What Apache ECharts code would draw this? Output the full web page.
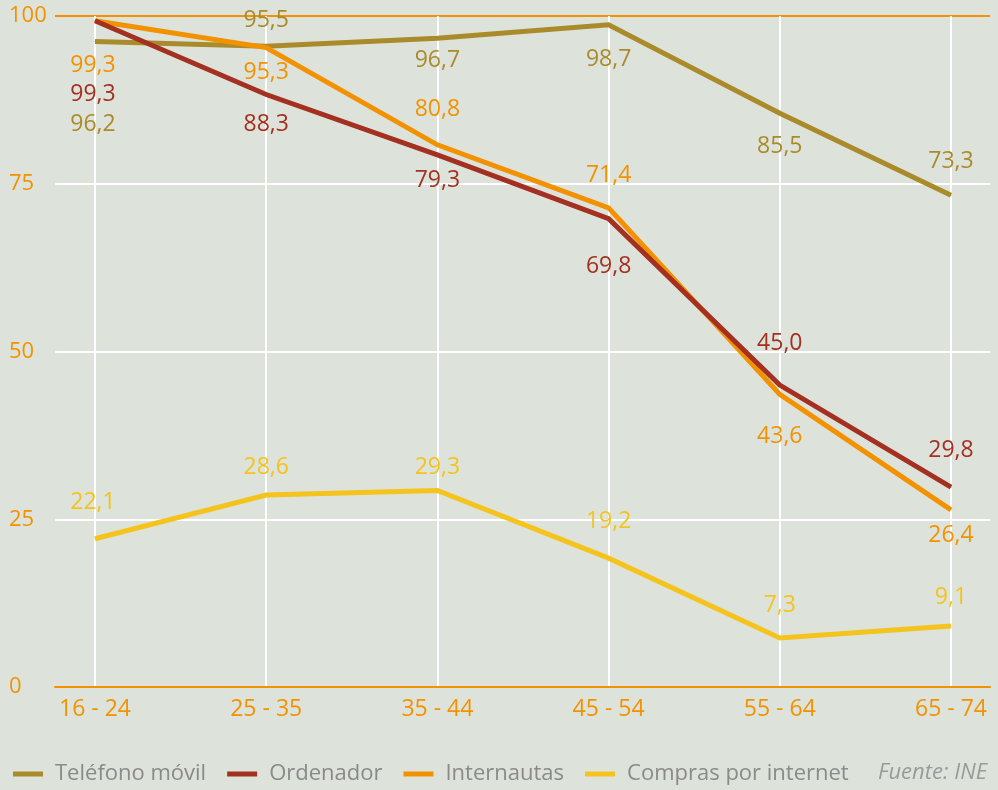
<!DOCTYPE html>
<html>
<head>
<meta charset="utf-8">
<title>Uso de TIC por edad</title>
<script src="https://cdn.jsdelivr.net/npm/echarts@6/dist/echarts.min.js"></script>
<style>
  html, body { margin: 0; padding: 0; background: #dde3da; }
  #chart { width: 998px; height: 790px; }
</style>
</head>
<body>
<div id="chart"></div>
<script>
// grupos de edad
var categories = ['16 - 24', '25 - 35', '35 - 44', '45 - 54', '55 - 64', '65 - 74'];
var yTicks = [0, 25, 50, 75, 100];

// porcentajes por serie
var telefono = [96.2, 95.5, 96.7, 98.7, 85.5, 73.3];
var ordenador = [99.3, 88.3, 79.3, 69.8, 45.0, 29.8];
var internautas = [99.3, 95.3, 80.8, 71.4, 43.6, 26.4];
var compras = [22.1, 28.6, 29.3, 19.2, 7.3, 9.1];

// desplazamiento vertical de cada etiqueta (px)
var telefonoDy = [83, -26, 22, 35, 33, -34];
var ordenadorDy = [74, 30, 26, 48, -42, -37];
var internautasDy = [45, 25, -35, -32, 42, 26];
var comprasDy = [-36, -28, -23, -37, -33, -28];

var FONT = '"Open Sans", sans-serif';
var ORANGE = '#f39200';

function fmt(v) {
    return v.toFixed(1).replace('.', ',');
}

function buildData(values, dys) {
    return values.map(function (v, i) {
        return {
            value: [i, v],
            label: { offset: [i === 0 ? -2 : 0, dys[i]] }
        };
    });
}

function makeSeries(name, color, values, dys, z) {
    return {
        name: name,
        type: 'line',
        z: z,
        symbol: 'circle',
        symbolSize: 1,
        itemStyle: { color: color },
        lineStyle: { color: color, width: 5, cap: 'butt', join: 'miter' },
        emphasis: { disabled: true },
        label: {
            show: true,
            position: 'inside',
            color: color,
            fontFamily: FONT,
            fontSize: 23,
            formatter: function (p) { return fmt(p.value[1]); }
        },
        data: buildData(values, dys)
    };
}

var xPad = 40 / 171.2;

var option = {
    backgroundColor: '#dde3da',
    animation: false,
    title: {
        text: 'Fuente: INE',
        right: 6,
        top: 757,
        textStyle: { fontFamily: FONT, fontStyle: 'italic', fontWeight: 'normal', fontSize: 22, color: '#9a9a9a' }
    },
    legend: {
        left: 8,
        top: 758,
        icon: 'rect',
        itemWidth: 30,
        itemHeight: 5,
        itemGap: 21,
        data: ['Teléfono móvil', 'Ordenador', 'Internautas', 'Compras por internet'],
        textStyle: { fontFamily: FONT, fontSize: 22, color: '#8a8a8a', padding: [0, 0, 0, 7] }
    },
    grid: { left: 55, right: 8, top: 16, bottom: 103 },
    xAxis: {
        type: 'value',
        min: -xPad,
        max: 5 + 39 / 171.2,
        axisLine: { show: true, lineStyle: { color: ORANGE, width: 2 } },
        axisTick: { show: false, customValues: [0, 1, 2, 3, 4, 5] },
        axisLabel: {
            customValues: [0, 1, 2, 3, 4, 5],
            margin: 11,
            color: ORANGE,
            fontFamily: FONT,
            fontSize: 23,
            formatter: function (v) { return categories[Math.round(v)]; }
        },
        splitLine: { show: true, lineStyle: { color: '#ffffff', width: 2 } }
    },
    yAxis: {
        type: 'value',
        min: yTicks[0],
        max: yTicks[yTicks.length - 1],
        interval: 25,
        axisLine: { show: false },
        axisTick: { show: false },
        axisLabel: {
            align: 'left',
            margin: 46,
            color: ORANGE,
            fontFamily: FONT,
            fontSize: 22
        },
        splitLine: {
            show: true,
            lineStyle: { color: [ORANGE, '#ffffff', '#ffffff', '#ffffff', ORANGE], width: 2 }
        }
    },
    series: [
        makeSeries('Teléfono móvil', '#a98b2b', telefono, telefonoDy, 2),
        makeSeries('Compras por internet', '#f5c31d', compras, comprasDy, 3),
        makeSeries('Internautas', ORANGE, internautas, internautasDy, 4),
        makeSeries('Ordenador', '#a33020', ordenador, ordenadorDy, 5)
    ]
};

var chart = echarts.init(document.getElementById('chart'));
chart.setOption(option);
</script>
</body>
</html>
